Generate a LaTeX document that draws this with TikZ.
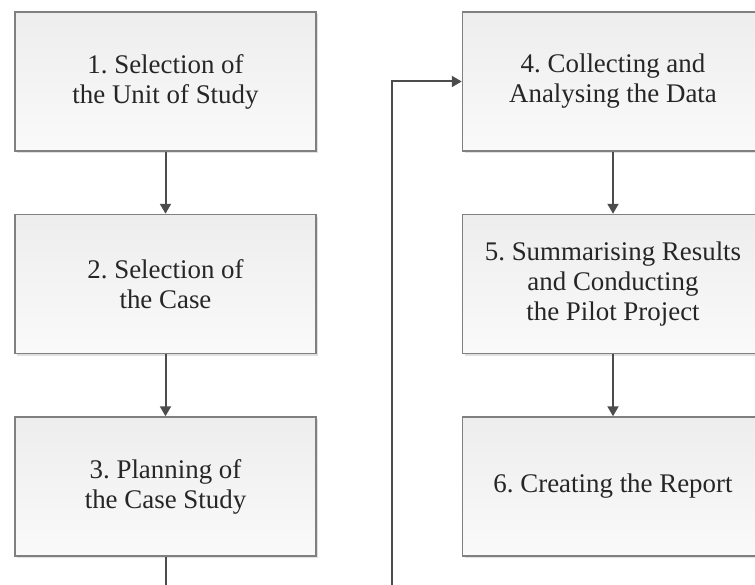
\documentclass[tikz,border=0pt]{standalone}
\usepackage{fontspec}
\setmainfont{Liberation Serif}
\usepackage{tikz}
\usetikzlibrary{arrows.meta,positioning,shadows}
\frenchspacing

\begin{document}
\begin{tikzpicture}[x=1bp, y=-1bp]
\tikzstyle{stage}=[rectangle, draw=black!50, line width=1.5bp, top color=black!7, bottom color=black!2,
  minimum width=301bp, minimum height=139bp, align=center, text=black!85,
  font=\fontsize{27}{30}\selectfont,
  drop shadow={shadow xshift=2bp, shadow yshift=-2bp, fill=black, opacity=0.12}, node distance=62bp]
\tikzstyle{connect}=[-{Triangle[width=11bp,length=10bp]}, line width=2bp, draw=black!70]
\tikzstyle{plain}=[line width=2bp, draw=black!70]

  \useasboundingbox (0,0) rectangle (755,585);

  \node[stage] (select) at (165.5,81.5)   {1. Selection of\\the Unit of Study};
  \node[stage] (casesel) [below =of select] {2. Selection of\\the Case};
  \node[stage] (plan)    [below =of casesel] {3. Planning of\\the Case Study};

  \node[stage] (collect) [right =145bp of select]  {4. Collecting and\\Analysing the Data};
  \node[stage] (summary) [below =of collect]       {5. Summarising Results\\and Conducting\\the Pilot Project};
  \node[stage] (report)  [below =of summary]       {6. Creating the Report};

  \coordinate (planout) at (165.5,585);
  \coordinate (loopin)  at (392,585);

  \path (select)  edge [connect] (casesel);
  \path (casesel) edge [connect] (plan);
  \draw[plain] (plan) -- (planout);
  \draw[connect] (loopin) |- (collect.west);
  \path (collect) edge [connect] (summary);
  \path (summary) edge [connect] (report);

\end{tikzpicture}
\end{document}
